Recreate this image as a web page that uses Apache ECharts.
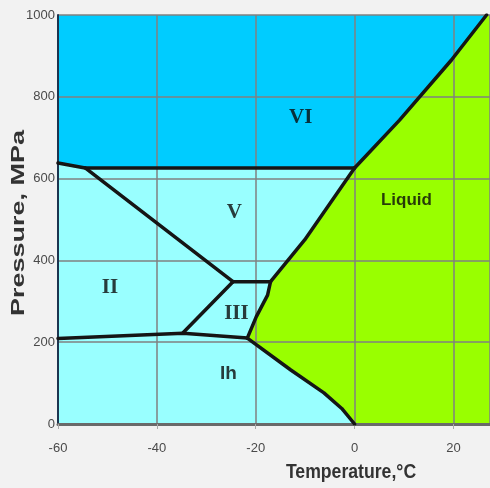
<!DOCTYPE html>
<html>
<head>
<meta charset="utf-8">
<script src="https://cdn.jsdelivr.net/npm/echarts@6/dist/echarts.min.js"></script>
<style>
  html, body { margin: 0; padding: 0; background: #f2f2f2; }
  #chart { width: 490px; height: 488px; }
</style>
</head>
<body>
<div id="chart"></div>
<script>
// axis ticks
let xTicks = [-60, -40, -20, 0, 20];
let yTicks = [0, 200, 400, 600, 800, 1000];

// phase boundaries, [temperature C, pressure MPa]
let viV = [[-60, 638], [-54.5, 626], [0, 626]];
let vII = [[-54.5, 626], [-24.6, 348]];
let iiIIIflat = [[-24.6, 348], [-17, 348]];
let iiIIIslant = [[-24.6, 348], [-34.7, 223]];
let ihTop = [[-60, 209], [-34.7, 222], [-21.7, 210]];
let ihLiquid = [[0, 0], [-2.6, 38], [-6.2, 76], [-12.9, 132], [-21.7, 210]];
let iiiLiquid = [[-21.7, 210], [-19.9, 262], [-17.6, 315], [-17, 348]];
let vLiquid = [[-17, 348], [-10.1, 450], [0, 626]];
let viLiquid = [[0, 626], [9.1, 743], [19.6, 890], [26.7, 1000]];

// region labels
let labels = [
  { name: 'VI', pos: [-10.9, 748], serif: true },
  { name: 'V', pos: [-24.3, 518], serif: true },
  { name: 'II', pos: [-49.5, 333], serif: true },
  { name: 'III', pos: [-23.9, 269], serif: true },
  { name: 'Ih', pos: [-25.5, 122], serif: false },
  { name: 'Liquid', pos: [10.5, 548], serif: false }
];

let xMin = -60, xMax = 27.4, yMin = 0, yMax = 1000;

// region outlines built from the boundaries
let viRegion = [].concat(viV, viLiquid.slice(1), [[xMin, yMax]]);
let liquidRegion = [].concat(
  ihLiquid, iiiLiquid.slice(1), vLiquid.slice(1), viLiquid.slice(1),
  [[xMax, yMax], [xMax, yMin]]
);

function polygon(points, color) {
  return {
    type: 'custom',
    silent: true,
    z: 1,
    clip: true,
    renderItem: function (params, api) {
      let pts = points.map(function (p) { return api.coord(p); });
      return { type: 'polygon', shape: { points: pts }, style: { fill: color } };
    },
    data: [0]
  };
}

function boundary(points) {
  return {
    type: 'line',
    data: points,
    showSymbol: false,
    silent: true,
    z: 5,
    lineStyle: { color: '#151515', width: 3.5, join: 'round', cap: 'round' }
  };
}

let series = [
  polygon(viRegion, '#00ccff'),
  polygon(liquidRegion, '#99ff00'),
  boundary(viV), boundary(vII), boundary(iiIIIflat), boundary(iiIIIslant),
  boundary(ihTop), boundary(ihLiquid), boundary(iiiLiquid), boundary(vLiquid),
  boundary(viLiquid),
  {
    type: 'scatter',
    symbolSize: 0,
    silent: true,
    z: 6,
    data: labels.map(function (l) {
      return {
        value: l.pos,
        label: {
          show: true,
          position: 'inside',
          formatter: l.name,
          color: '#0a0a0a',
          textBorderWidth: 0,
          fontWeight: 'bold',
          fontFamily: l.serif ? 'Liberation Serif' : 'Liberation Sans',
          fontSize: l.serif ? 21 : (l.name === 'Ih' ? 19 : 17)
        }
      };
    })
  }
];

let tickFont = '"Liberation Sans", sans-serif';

let chart = echarts.init(document.getElementById('chart'));
chart.setOption({
  animation: false,
  backgroundColor: '#f2f2f2',
  grid: {
    left: 58, right: 0, top: 15, bottom: 64,
    show: true, backgroundColor: '#99ffff', borderWidth: 0
  },
  xAxis: {
    type: 'value',
    min: xMin, max: xMax, interval: 20,
    z: 3,
    axisLine: { show: true, onZero: false, lineStyle: { color: '#6a6a6a', width: 3 } },
    axisTick: { show: true, length: 5, lineStyle: { color: '#aaa' } },
    splitLine: { show: true, lineStyle: { color: '#808080', width: 1.5 } },
    axisLabel: {
      margin: 18, color: '#4a4a4a', fontSize: 13, fontFamily: tickFont,
      showMaxLabel: false,
      formatter: function (v) { return xTicks.indexOf(v) >= 0 ? String(v) : ''; }
    }
  },
  yAxis: {
    type: 'value',
    min: yMin, max: yMax, interval: 200,
    z: 3,
    axisLine: { show: true, onZero: false, lineStyle: { color: '#1c3550', width: 2 } },
    axisTick: { show: false },
    splitLine: { show: true, lineStyle: { color: '#808080', width: 1.5 } },
    axisLabel: {
      margin: 3, color: '#4a4a4a', fontSize: 13, fontFamily: tickFont,
      formatter: function (v) { return yTicks.indexOf(v) >= 0 ? String(v) : ''; }
    }
  },
  graphic: [
    {
      type: 'text', x: 19, y: 223, rotation: Math.PI / 2, scaleX: 1.5,
      style: {
        text: 'Pressure, MPa', fill: '#333', font: 'bold 18px "Liberation Sans"',
        align: 'center', verticalAlign: 'middle'
      }
    },
    {
      type: 'text', x: 351, y: 472, scaleX: 0.84,
      style: {
        text: 'Temperature,°C', fill: '#333',
        font: 'bold 21px "Liberation Sans"',
        align: 'center', verticalAlign: 'middle'
      }
    }
  ],
  series: series
});
</script>
</body>
</html>
